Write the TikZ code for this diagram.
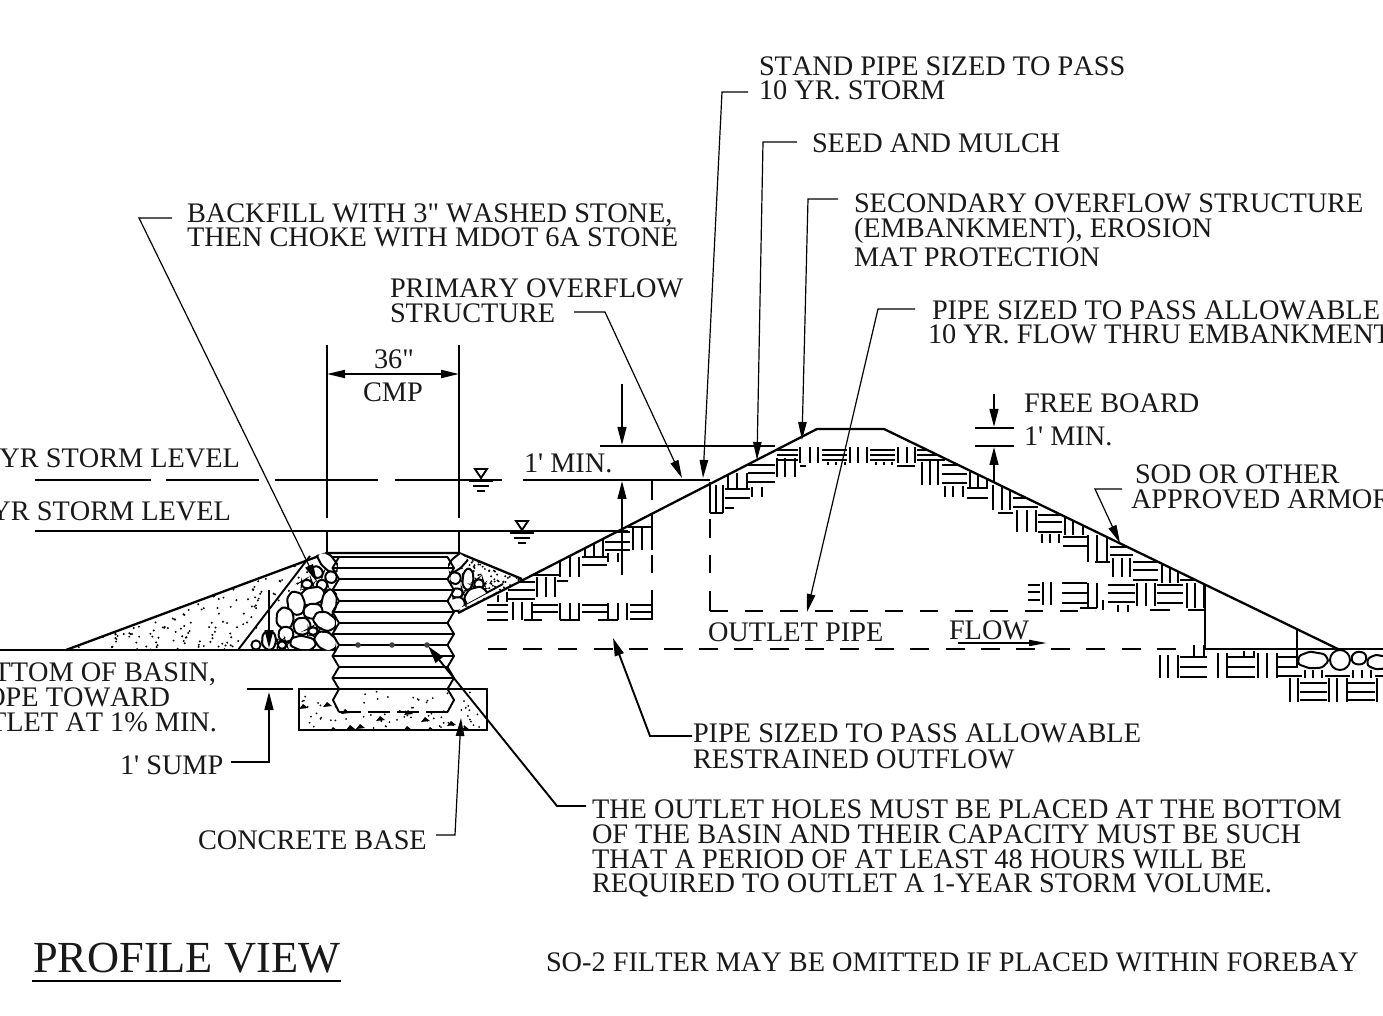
\documentclass[tikz,border=0pt]{standalone}
\usepackage{fontspec}
\newfontfamily\plainfont{Liberation Serif}[Kerning=Off]
\usetikzlibrary{arrows.meta}
\newcommand{\hatchH}[3]{\foreach \yy in {#3}{\draw[hatch] (#1,\yy)--(#2,\yy);}}
\newcommand{\hatchV}[3]{\foreach \xx in {#1}{\draw[hatch] (\xx,#2)--(\xx,#3);}}
\newcommand{\rockA}[5]{\draw[rock,shift={(#1,#2)},rotate=#5,xscale=1.12*#3,yscale=1.12*#4] (1,.1)--(.6,.9)--(-.2,1)--(-.95,.5)--(-.9,-.5)--(-.2,-1)--(.75,-.7)--cycle;}
\newcommand{\wlevel}[2]{%
  \draw[main line,fill=white] (#1-6,#2-10)--(#1+6,#2-10)--(#1,#2-1)--cycle;
  \draw[main line] (#1-12,#2+2)--(#1+12,#2+2) (#1-8,#2+7)--(#1+8,#2+7) (#1-4,#2+12)--(#1+4,#2+12);}
\tikzset{
  x=0.5pt,y=-0.5pt,
  lbl/.style={inner sep=0pt,outer sep=0pt,font=\plainfont\fontsize{14.15}{12.5}\selectfont,text=black!90},
  tl/.style={lbl,anchor=base west},
  tr/.style={lbl,anchor=base east},
  tc/.style={lbl,anchor=base},
  hatch/.style={line width=.9pt},
  main line/.style={line width=.95pt},
  slope line/.style={line width=1.15pt},
  leader/.style={line width=.6pt,-{Triangle[length=9pt,width=4.2pt]},shorten >=0pt},
  leader heavy/.style={line width=.95pt,-{Triangle[length=9pt,width=4.6pt]}},
  dim/.style={line width=.95pt,-{Triangle[length=9pt,width=4.4pt]}},
  rock/.style={line width=1pt,rounded corners=1.2pt,fill=white},
  mdash/.style={main line,dash pattern=on 9.5pt off 8.1pt},
  odash/.style={main line,dash pattern=on 9pt off 8.5pt},
}
\begin{document}
\begin{tikzpicture}
\clip (0,0) rectangle (1383,1016);
\fill[white] (0,0) rectangle (1383,1016);

% ---------- stipple fill of backfill wedges
\begin{scope}
\clip (66,650)--(327,553)--(238,650)--cycle;
\pgfmathsetseed{7}
\foreach \i in {1,...,420}{
  \pgfmathsetmacro{\dx}{66+rnd*262}\pgfmathsetmacro{\dy}{553+rnd*97}
  \fill[black] (\dx,\dy) circle (.55pt);}
\end{scope}
\begin{scope}
\clip (459,553)--(522,579)--(462,612)--cycle;
\pgfmathsetseed{11}
\foreach \i in {1,...,170}{
  \pgfmathsetmacro{\dx}{459+rnd*63}\pgfmathsetmacro{\dy}{553+rnd*59}
  \fill[black] (\dx,\dy) circle (.55pt);}
\end{scope}

% ---------- embankment hatching
\begin{scope}
\clip (480,720)--(480,606)--(523,580)--(817,429)--(884,429)--(1340,650)--(1383,650)--(1383,720)--cycle;
% left slope
\hatchH{777}{798}{450,455,460}
\hatchV{800,810,818}{447}{463}
\hatchH{822}{847}{450,455,460}
\hatchV{828,836,845}{462}{465}
\hatchV{850,858,867}{447}{463}
\hatchH{870}{895}{450,455,460}
\hatchV{876,884,892}{462}{465}
\hatchV{898,907,915}{447}{463}
\hatchH{917}{945}{450,455,460}
\hatchH{897}{915}{466}
\hatchV{922,930,938}{462}{485}
\hatchV{777,785,795}{458}{477}
\hatchH{800}{806}{466}
\hatchH{748}{775}{465,473,482}
\hatchV{728,737,747}{473}{488}
\hatchV{752,762}{487}{497}
\hatchH{725}{750}{489,498}
\hatchH{725}{734}{508}
\hatchV{716,723}{485}{513}
\hatchH{710}{723}{513}
\hatchH{628}{652}{527}
\hatchH{605}{630}{532,542,550}
\hatchV{633,642,652}{528}{550}
\hatchV{608,618}{553}{562}
\hatchV{585,594,603}{540}{556}
\hatchH{582}{607}{557,565}
\hatchV{560,570,579}{557}{577}
\hatchH{533}{560}{575}
\hatchV{537,546,555}{577}{597}
\hatchH{557}{568}{581}
\hatchH{508}{535}{582,590,599}
\hatchV{498,507}{592}{602}
\hatchH{487}{508}{605,612,620}
\hatchV{513,522,532}{602}{620}
\hatchH{533}{558}{605,612}
\hatchH{524}{542}{620}
\hatchV{560,570,579}{603}{620}
\hatchH{560}{580}{620}
\hatchH{582}{607}{605,612}
\hatchH{598}{618}{620}
\hatchV{608,618}{603}{620}
\hatchV{627}{603}{620}
\hatchH{630}{653}{605,612,619}
% right slope
\hatchV{930,938}{460}{480}
\hatchH{942}{967}{465,474,483}
\hatchV{945,953,963}{486}{497}
\hatchV{970,978,987}{472}{488}
\hatchH{967}{988}{488,498}
\hatchV{993,1002,1010}{485}{510}
\hatchH{998}{1013}{513}
\hatchH{1013}{1038}{498,507}
\hatchV{1017,1027,1036}{510}{532}
\hatchH{1038}{1062}{515,522,532}
\hatchV{1065,1073,1083}{517}{535}
\hatchV{1042,1050,1059}{534}{543}
\hatchH{1063}{1087}{537,546}
\hatchV{1088,1097,1107}{535}{562}
\hatchH{1110}{1133}{547,555}
\hatchH{1095}{1110}{562}
\hatchV{1113,1122,1130}{558}{577}
\hatchH{1133}{1158}{562,570,580}
\hatchV{1162,1170,1178}{565}{583}
\hatchH{1180}{1200}{580}
\hatchV{1187,1195,1204}{583}{608}
\hatchV{1043,1051}{582}{605}
\hatchH{1028}{1040}{585,592,600}
\hatchH{1062}{1087}{583,593,603}
\hatchV{1088,1097}{583}{608}
\hatchH{1080}{1097}{608}
\hatchV{1103}{600}{610}
\hatchH{1108}{1135}{585,593,602}
\hatchV{1137,1146,1155}{583}{606}
\hatchH{1157}{1183}{585,593,603}
\hatchH{1150}{1170}{610}
\hatchH{1188}{1205}{610}
\hatchV{1118,1128}{605}{612}
% under the toe
\hatchV{1160,1168,1178}{655}{678}
\hatchH{1180}{1207}{657,667,677}
\hatchV{1194,1204}{645}{657}
\hatchV{1218,1227}{653}{678}
\hatchH{1228}{1255}{657,667,677}
\hatchV{1244,1254}{651}{657}
\hatchV{1258,1267,1277}{653}{678}
\hatchH{1278}{1297}{657,667}
\hatchH{1277}{1302}{676}
\hatchV{1305,1313,1322}{670}{678}
\hatchH{1325}{1350}{676}
\hatchV{1353,1362,1371}{670}{678}
\hatchH{1375}{1383}{676}
\hatchV{1290,1298}{678}{702}
\hatchH{1300}{1327}{683,692,700}
\hatchV{1329,1337,1347}{678}{702}
\hatchH{1348}{1375}{683,692,700}
\hatchV{1377}{678}{702}
\end{scope}

% ---------- ground and embankment
\draw[slope line] (0,650)--(335,650);
\draw[slope line] (66,650)--(327,553);
\draw[main line] (238,650)--(310,556);
\draw[main line] (503,584)--(462,606);
\draw[slope line] (327,553)--(459,553)--(522,579);
\draw[slope line] (458,613)--(523,580)--(817,429)--(884,429)--(1340,650);
\draw[main line] (327,557)--(339,557);
\draw[slope line] (1205,585)--(1205,649)--(1383,649);
\draw[main line] (1297,630)--(1297,668);

% ---------- stones
\begin{scope}
\clip (238,650)--(310,556)--(327,553)--(338,556)--(336,650)--cycle;
\rockA{328}{562}{12}{6}{-45}
\rockA{317}{572}{6}{5}{-40}
\rockA{331}{577}{5.5}{5.5}{0}
\rockA{307}{584}{5}{4}{0}
\rockA{322}{585}{5}{5}{0}
\rockA{312}{596}{12}{8}{20}
\rockA{329}{603}{7}{13}{-10}
\rockA{296}{603}{8}{11}{10}
\rockA{313}{611}{9}{7}{10}
\rockA{285}{618}{8}{10}{0}
\rockA{302}{626}{8}{8}{20}
\rockA{325}{621}{11}{8}{-25}
\rockA{286}{634}{7}{7}{0}
\rockA{313}{631}{4.5}{3.5}{0}
\rockA{303}{643}{12}{6.5}{-5}
\rockA{326}{641}{11}{8}{-30}
\rockA{282}{645}{4}{3.5}{0}
\rockA{269}{640}{6.5}{9}{0}
\draw[main line] (256,645) circle (2.3pt);
\end{scope}
\begin{scope}
\clip (459,553)--(503,584)--(462,606)--(455,618)--(447,557)--cycle;
\rockA{458}{562}{13}{5.5}{45}
\rockA{455}{578}{5.5}{5.5}{0}
\rockA{468}{579}{5}{10}{-5}
\rockA{479}{584}{4.5}{4.5}{0}
\rockA{457}{593}{5.5}{4.5}{0}
\rockA{476}{597}{11}{9}{30}
\rockA{457}{604}{7.5}{6.5}{20}
\end{scope}
\rockA{1313}{660}{14}{7.5}{0}
\draw[main line,fill=white] (1340,660) circle (5pt);
\rockA{1359}{658}{7}{6}{10}
\rockA{1378}{662}{10}{6.5}{0}

% ---------- concrete base
\draw[main line] (299,689) rectangle (487,730);
\begin{scope}
\clip (299,689) rectangle (487,730);
\pgfmathsetseed{3}
\foreach \i in {1,...,70}{
  \pgfmathsetmacro{\dx}{302+rnd*183}\pgfmathsetmacro{\dy}{691+rnd*37}
  \fill[black] (\dx,\dy) circle (.5pt);}
\foreach \cx/\cy in {303/704,327/702,345/709,380/716,408/710,425/717,350/725,360/724,333/727,407/726,451/721,465/726,430/727}{
  \fill[black] (\cx,\cy)--++(5,4)--++(-9,1)--cycle;}
\end{scope}

% ---------- corrugated pipe
\foreach \yy [count=\n] in {557,568,...,689}{
  \pgfmathsetmacro{\lx}{isodd(\n)?339:332.5}
  \pgfmathsetmacro{\rx}{isodd(\n)?447.5:454}
  \draw[main line] (\lx,\yy)--(\rx,\yy);
}
\draw[main line,line join=miter] (339,557)--(332.5,568)--(339,579)--(332.5,590)--(339,601)--(332.5,612)--(339,623)--(332.5,634)--(339,645)--(332.5,656)--(339,667)--(332.5,678)--(339,689)--(333,700)--(339,712);
\draw[main line,line join=miter] (447.5,557)--(454,568)--(447.5,579)--(454,590)--(447.5,601)--(454,612)--(447.5,623)--(454,634)--(447.5,645)--(454,656)--(447.5,667)--(454,678)--(447.5,689)--(454,700)--(447.5,712);
\draw[main line,dash pattern=on 11pt off 3.5pt] (339,712)--(447.5,712);
\foreach \cx in {358,392,427}{\fill[black!75] (\cx,645) circle (1.4pt);}

% ---------- storm levels and dimension extension lines
\draw[main line] (35,480)--(151,480) (166,480)--(259,480) (275,480)--(378,480) (395,480)--(502,480) (523,480)--(710,480);
\draw[main line] (35,531)--(628,531);
\draw[main line] (327,345)--(327,518) (327,531)--(327,553);
\draw[main line] (459,345)--(459,518) (459,531)--(459,553);
\draw[main line] (600,446)--(775,446);
\draw[main line] (975,428)--(1014,428) (975,446)--(1014,446);
\draw[main line] (247,689)--(293,689);
\wlevel{481}{479}
\wlevel{522}{531}

% ---------- dashed pipes
\draw[main line] (652,480)--(652,500) (652,513)--(652,540) (652,555)--(652,573) (652,590)--(652,620);
\draw[main line] (710,482)--(710,513) (710,519)--(710,538) (710,555)--(710,573) (710,591)--(710,611);
\draw[odash] (710,611)--(1095,611);
\draw[mdash] (488,649)--(1183,649);

% ---------- named leader ends
\coordinate (stand a) at (748,92);   \coordinate (stand b) at (722,92);   \coordinate (stand t) at (703,478);
\coordinate (seed a) at (797,142);   \coordinate (seed b) at (763,142);   \coordinate (seed t) at (757,460);
\coordinate (sec a) at (838,199);    \coordinate (sec b) at (808,199);    \coordinate (sec t) at (802,440);
\coordinate (pipeq a) at (915,309);  \coordinate (pipeq b) at (878,309);  \coordinate (pipeq t) at (807,612);
\coordinate (back a) at (172,218);   \coordinate (back b) at (139,218);   \coordinate (back t) at (317,582);
\coordinate (prim a) at (574,312);   \coordinate (prim b) at (605,312);   \coordinate (prim t) at (682,478);
\coordinate (sod a) at (1122,489);   \coordinate (sod b) at (1095,489);   \coordinate (sod t) at (1120,543);
\coordinate (conc a) at (436,835);   \coordinate (conc b) at (455,835);   \coordinate (conc t) at (461,718);
\coordinate (sump a) at (231,762);   \coordinate (sump b) at (269,762);   \coordinate (sump t) at (269,692);
\coordinate (hole a) at (586,806);   \coordinate (hole b) at (557,806);   \coordinate (hole t) at (428,646);
\coordinate (rest a) at (692,736);   \coordinate (rest b) at (650,736);   \coordinate (rest t) at (613,638);
\coordinate (cmp l) at (327,374);    \coordinate (cmp r) at (459,374);
\coordinate (fa s) at (622,384);     \coordinate (fa t) at (622,445);
\coordinate (fb s) at (622,575);     \coordinate (fb t) at (622,481);
\coordinate (fc s) at (994,394);     \coordinate (fc t) at (994,427);
\coordinate (fd s) at (994,483);     \coordinate (fd t) at (994,447);
\coordinate (se s) at (269,590);     \coordinate (se t) at (269,648);
\coordinate (flow s) at (958,643);   \coordinate (flow t) at (1047,643);

% ---------- leaders and dimensions
\draw[leader] (stand a)--(stand b)--(stand t);
\draw[leader] (seed a)--(seed b)--(seed t);
\draw[leader] (sec a)--(sec b)--(sec t);
\draw[leader] (pipeq a)--(pipeq b)--(pipeq t);
\draw[leader] (back a)--(back b)--(back t);
\draw[leader] (prim a)--(prim b)--(prim t);
\draw[leader] (sod a)--(sod b)--(sod t);
\draw[leader] (conc a)--(conc b)--(conc t);
\draw[dim] (sump a)--(sump b)--(sump t);
\draw[leader heavy] (hole a)--(hole b)--(hole t);
\draw[leader heavy] (rest a)--(rest b)--(rest t);
\draw[dim,{Triangle[length=9pt,width=4pt]}-{Triangle[length=9pt,width=4pt]}] (cmp l)--(cmp r);
\draw[dim] (fa s)--(fa t);
\draw[dim] (fb s)--(fb t);
\draw[dim] (fc s)--(fc t);
\draw[dim] (fd s)--(fd t);
\draw[dim,line width=.7pt] (se s)--(se t);
\draw[main line,-{Triangle[length=9pt,width=3pt]}] (flow s)--(flow t);

% ---------- text
\node[tl] (t1a) at (759,76) {STAND PIPE SIZED TO PASS};
\node[tl] (t1b) at (759,100) {10 YR. STORM};
\node[tl] (t2) at (812,153) {SEED AND MULCH};
\node[tl] (t3a) at (854,213) {SECONDARY OVERFLOW STRUCTURE};
\node[tl] (t3b) at (854,238) {(EMBANKMENT), EROSION};
\node[tl] (t3c) at (854,267) {MAT PROTECTION};
\node[tl] (t4a) at (932,320) {PIPE SIZED TO PASS ALLOWABLE};
\node[tl] (t4b) at (928,344) {10 YR. FLOW THRU EMBANKMENT};
\node[tl] (t5a) at (187,223) {BACKFILL WITH 3" WASHED STONE,};
\node[tl] (t5b) at (187,247) {THEN CHOKE WITH MDOT 6A STONE};
\node[tl] (t6a) at (390,298) {PRIMARY OVERFLOW};
\node[tl] (t6b) at (390,323) {STRUCTURE};
\node[tc] (t7a) at (394,369) {36"};
\node[tc] (t7b) at (393,402) {CMP};
\node[tl] (t8a) at (1024,413) {FREE BOARD};
\node[tl] (t8b) at (1024,445) {1' MIN.};
\node[tl] (t9a) at (1135,483) {SOD OR OTHER};
\node[tl] (t9b) at (1131,509) {APPROVED ARMOR};
\node[tl] (t10) at (524,473) {1' MIN.};
\node[tr] (t11) at (240,467) {YR STORM LEVEL};
\node[tr] (t12) at (231,520) {YR STORM LEVEL};
\node[tr] (t13a) at (216,681) {TTOM OF BASIN,};
\node[tr] (t13b) at (170,706) {OPE TOWARD};
\node[tr] (t13c) at (217,731) {TLET AT 1\% MIN.};
\node[tl] (t14) at (120,774) {1' SUMP};
\node[tl] (t15) at (198,849) {CONCRETE BASE};
\node[tl] (t16) at (708,641) {OUTLET PIPE};
\node[tl] (t17) at (949,639) {FLOW};
\node[tl] (t18a) at (693,742) {PIPE SIZED TO PASS ALLOWABLE};
\node[tl] (t18b) at (693,768) {RESTRAINED OUTFLOW};
\node[tl] (t19a) at (592,818) {THE OUTLET HOLES MUST BE PLACED AT THE BOTTOM};
\node[tl] (t19b) at (592,843) {OF THE BASIN AND THEIR CAPACITY MUST BE SUCH};
\node[tl] (t19c) at (592,868) {THAT A PERIOD OF AT LEAST 48 HOURS WILL BE};
\node[tl] (t19d) at (592,892) {REQUIRED TO OUTLET A 1-YEAR STORM VOLUME.};
\node[lbl,anchor=base west,font=\plainfont\fontsize{22.2}{24}\selectfont] (title) at (33,972) {PROFILE VIEW};
\draw[line width=.9pt] (32,981)--(341,981);
\node[tl] (t20) at (546,971) {SO-2 FILTER MAY BE OMITTED IF PLACED WITHIN FOREBAY};
\end{tikzpicture}
\end{document}
